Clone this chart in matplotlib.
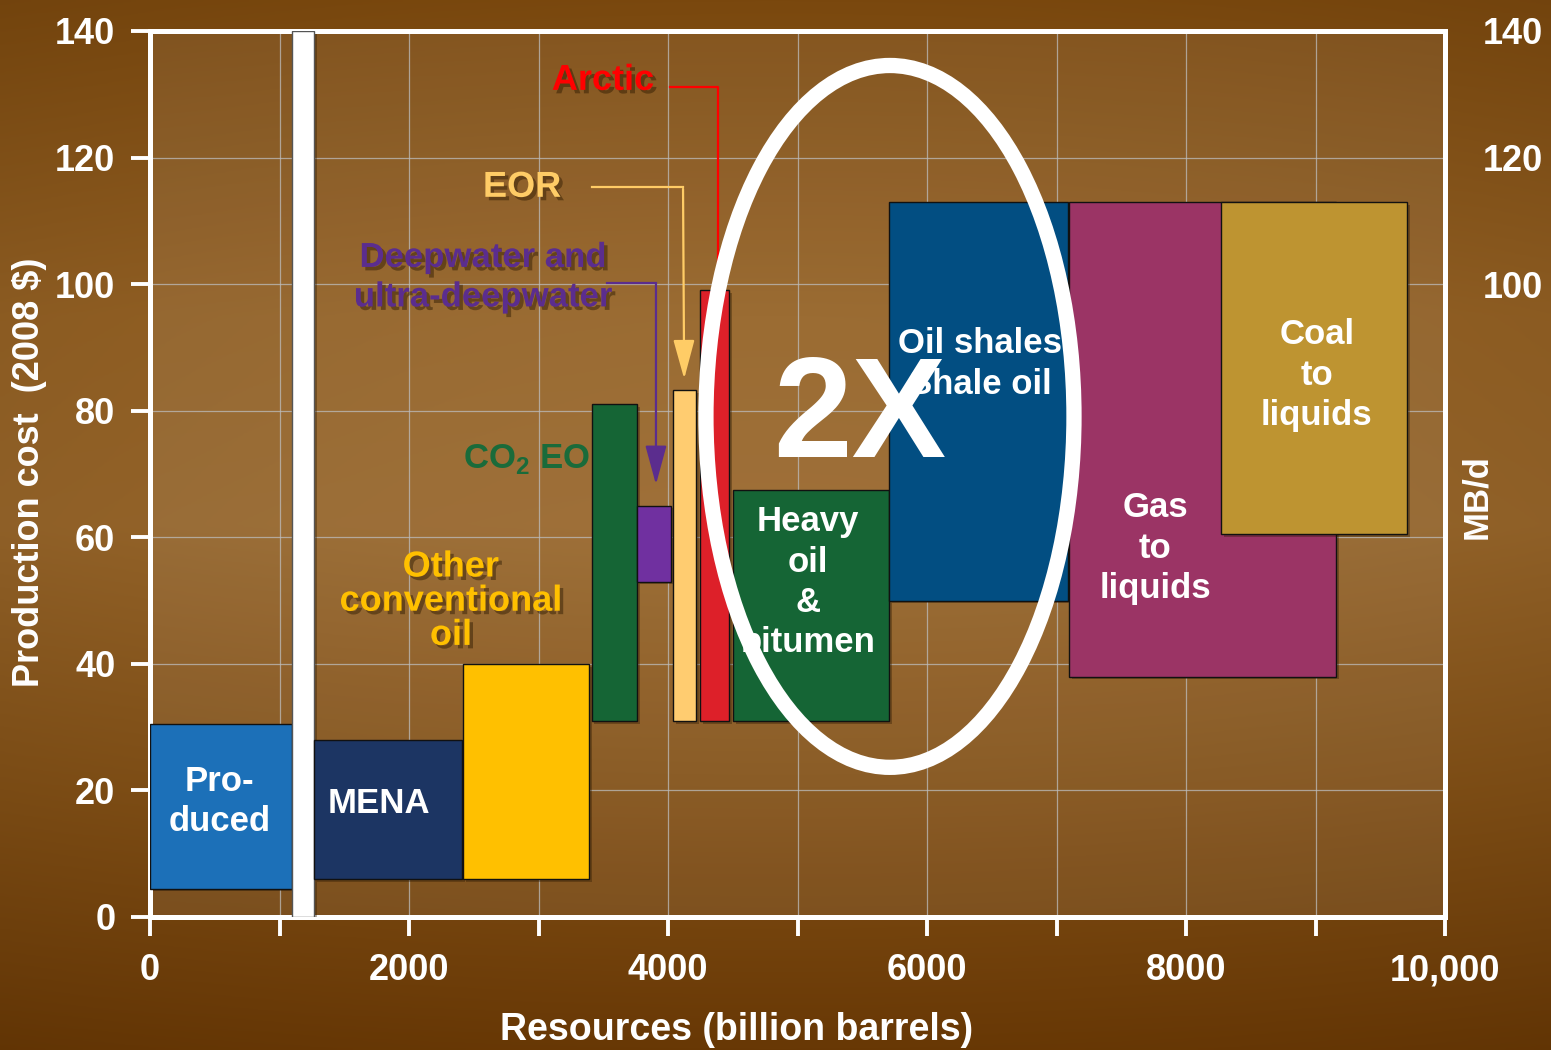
import numpy as np
import matplotlib
matplotlib.use("Agg")
import matplotlib.pyplot as plt
from matplotlib.patches import Ellipse
import matplotlib.patheffects as pe

plt.rcParams['font.family'] = ['Liberation Sans', 'DejaVu Sans']
plt.rcParams['font.weight'] = 'bold'
plt.rcParams['mathtext.fontset'] = 'custom'
plt.rcParams['mathtext.rm'] = 'Liberation Sans:bold'
plt.rcParams['mathtext.bf'] = 'Liberation Sans:bold'

# resource blocks: cumulative resources (billion barrels) vs production cost (2008 $)
blocks = ['Produced', 'Divider', 'MENA', 'Other conventional oil', 'CO2 EOR',
          'Deepwater and ultra-deepwater', 'EOR', 'Arctic', 'Heavy oil & bitumen',
          'Oil shales', 'Gas to liquids', 'Coal to liquids']
res_start = [0, 1100, 1270, 2420, 3410, 3760, 4040, 4250, 4500, 5710, 7100, 8270]
res_end = [1100, 1270, 2410, 3390, 3760, 4020, 4220, 4470, 5710, 7090, 9160, 9710]
cost_low = [4.5, 0, 6, 6, 31, 53, 31, 31, 31, 50, 38, 60.5]
cost_high = [30.5, 140, 28, 40, 81, 65, 83.3, 99, 67.5, 113, 113, 113]
colors = ['#1c70b8', '#ffffff', '#1c3563', '#ffc000', '#156535', '#7030a0',
          '#ffcc70', '#dd2029', '#156535', '#024e82', '#9b3465', '#be9431']

x_ticks = [0, 2000, 4000, 6000, 8000, 10000]
x_ticklabels = ['0', '2000', '4000', '6000', '8000', '10,000']
y_ticks = [0, 20, 40, 60, 80, 100, 120, 140]
right_ticks = [100, 120, 140]

W, H = 1551, 1050
fig = plt.figure(figsize=(W / 100, H / 100), dpi=100)

# brown gradient backdrop
bg = fig.add_axes([0, 0, 1, 1], zorder=-10)
ys = np.linspace(0, 1, 400)
stops = [0.0, 0.3, 0.5, 0.75, 1.0]
r = np.interp(ys, stops, [122, 148, 152, 130, 104])
g = np.interp(ys, stops, [72, 97, 102, 80, 56])
b = np.interp(ys, stops, [14, 36, 42, 22, 5])
img = np.stack([r, g, b], axis=-1)[:, None, :] / 255.0
xs = np.linspace(-1, 1, 300)
shade = 1 - 0.06 * xs ** 2
img = img * shade[None, :, None]
bg.imshow(img, aspect='auto', extent=[0, 1, 0, 1], origin='upper')
bg.axis('off')

ax = fig.add_axes([150 / W, 1 - 917 / H, 1295 / W, 886 / H])
ax.set_facecolor((1, 1, 1, 0.07))
ax.set_xlim(0, 10000)
ax.set_ylim(0, 140)

shadow = [pe.SimplePatchShadow(offset=(2, -2), shadow_rgbFace='#2a1800', alpha=0.35), pe.Normal()]
for x0, x1, lo, hi, c in zip(res_start, res_end, cost_low, cost_high, colors):
    ec = '#555555' if c == '#ffffff' else '#111111'
    bar = ax.bar(x0, hi - lo, width=x1 - x0, bottom=lo, align='edge', color=c,
                 edgecolor=ec, linewidth=1.0, zorder=3)
    for p in bar:
        p.set_path_effects(shadow)

# axes styling
for s in ax.spines.values():
    s.set_color('white')
    s.set_linewidth(3.6)
ax.set_xticks(x_ticks)
ax.set_xticklabels(x_ticklabels)
ax.set_xticks([1000, 3000, 5000, 7000, 9000], minor=True)
ax.set_yticks(y_ticks)
ax.tick_params(which='both', direction='out', length=14, width=2.8, color='white',
               labelcolor='white', labelsize=26)
ax.tick_params(axis='x', pad=12)
ax.tick_params(axis='y', pad=11)
ax.grid(which='both', axis='x', color='#bdbdbd', lw=0.9, alpha=0.75)
ax.grid(which='major', axis='y', color='#bdbdbd', lw=0.9, alpha=0.75)
ax.set_axisbelow(True)

ax2 = ax.twinx()
ax2.set_ylim(0, 140)
ax2.set_yticks(right_ticks)
ax2.tick_params(length=0, pad=27, labelsize=26, labelcolor='white')
for s in ax2.spines.values():
    s.set_visible(False)

fig.text(737 / W, 1 - 1030 / H, 'Resources (billion barrels)', color='white',
         fontsize=27, ha='center', va='center')
fig.text(30 / W, 1 - 472 / H, 'Production cost  (2008 $)', color='white',
         fontsize=26, ha='center', va='center', rotation=90)
fig.text(1477 / W, 1 - 497 / H, 'MB/d', color='white', fontsize=25,
         ha='center', va='center', rotation=90)

# labels inside blocks
inner = [('Pro-\nduced', 540, 18.2), ('MENA', 1768, 18), ('Heavy\noil\n&\nbitumen', 5081, 52.9),
         ('Oil shales\nShale oil', 6409, 87.4), ('Gas\nto\nliquids', 7761, 58.3),
         ('Coal\nto\nliquids', 9011, 85.6)]
for txt, x, y in inner:
    ax.text(x, y, txt, color='white', fontsize=25, ha='center', va='center',
            linespacing=1.28, zorder=4)

tshadow = [pe.withSimplePatchShadow(offset=(2.5, -2.5), shadow_rgbFace='#2a1800', alpha=0.45)]

ax.text(2417, 72.4, 'CO$_\\mathbf{2}$ EOR', color='#1a6b3a', fontsize=25,
        ha='left', va='center', zorder=2)
ax.text(2324, 49.9, 'Other\nconventional\noil', color='#ffc000', fontsize=26,
        ha='center', va='center', linespacing=0.97, zorder=2, path_effects=tshadow)
ax.text(3498, 132.2, 'Arctic', color='#ff0000', fontsize=26, ha='center', va='center',
        zorder=2, path_effects=tshadow)
ax.text(2873, 115.3, 'EOR', color='#ffcc66', fontsize=26, ha='center', va='center',
        zorder=2, path_effects=tshadow)
ax.text(2571, 101.1, 'Deepwater and\nultra-deepwater', color='#5b2d8e', fontsize=25,
        ha='center', va='center', linespacing=1.25, zorder=2, path_effects=tshadow)

# leader lines
ax.plot([4015, 4386, 4386], [131.1, 131.1, 99], color='#ff0000', lw=1.6, zorder=2.5)
ax.plot([3413, 4116], [115.3, 115.3], color='#ffcc66', lw=1.6, zorder=2.5)
ax.annotate('', xy=(4125, 84.6), xytext=(4116, 115.5),
            arrowprops=dict(arrowstyle='-|>,head_length=1.1,head_width=0.3',
                            color='#ffcc66', lw=1.6, mutation_scale=22), zorder=2.5)
ax.plot([3529, 3907], [100.2, 100.2], color='#5b2d8e', lw=1.6, zorder=2.5)
ax.annotate('', xy=(3907, 67.9), xytext=(3907, 100.4),
            arrowprops=dict(arrowstyle='-|>,head_length=1.1,head_width=0.3',
                            color='#5b2d8e', lw=1.6, mutation_scale=22), zorder=2.5)

ax.add_patch(Ellipse((5714, 79.1), 2842, 110.9, fill=False, ec='white', lw=11, zorder=6))
ax.text(5483, 78.5, '2X', color='white', fontsize=102, ha='center', va='center', zorder=7)

fig.savefig('out.png', dpi=100)
